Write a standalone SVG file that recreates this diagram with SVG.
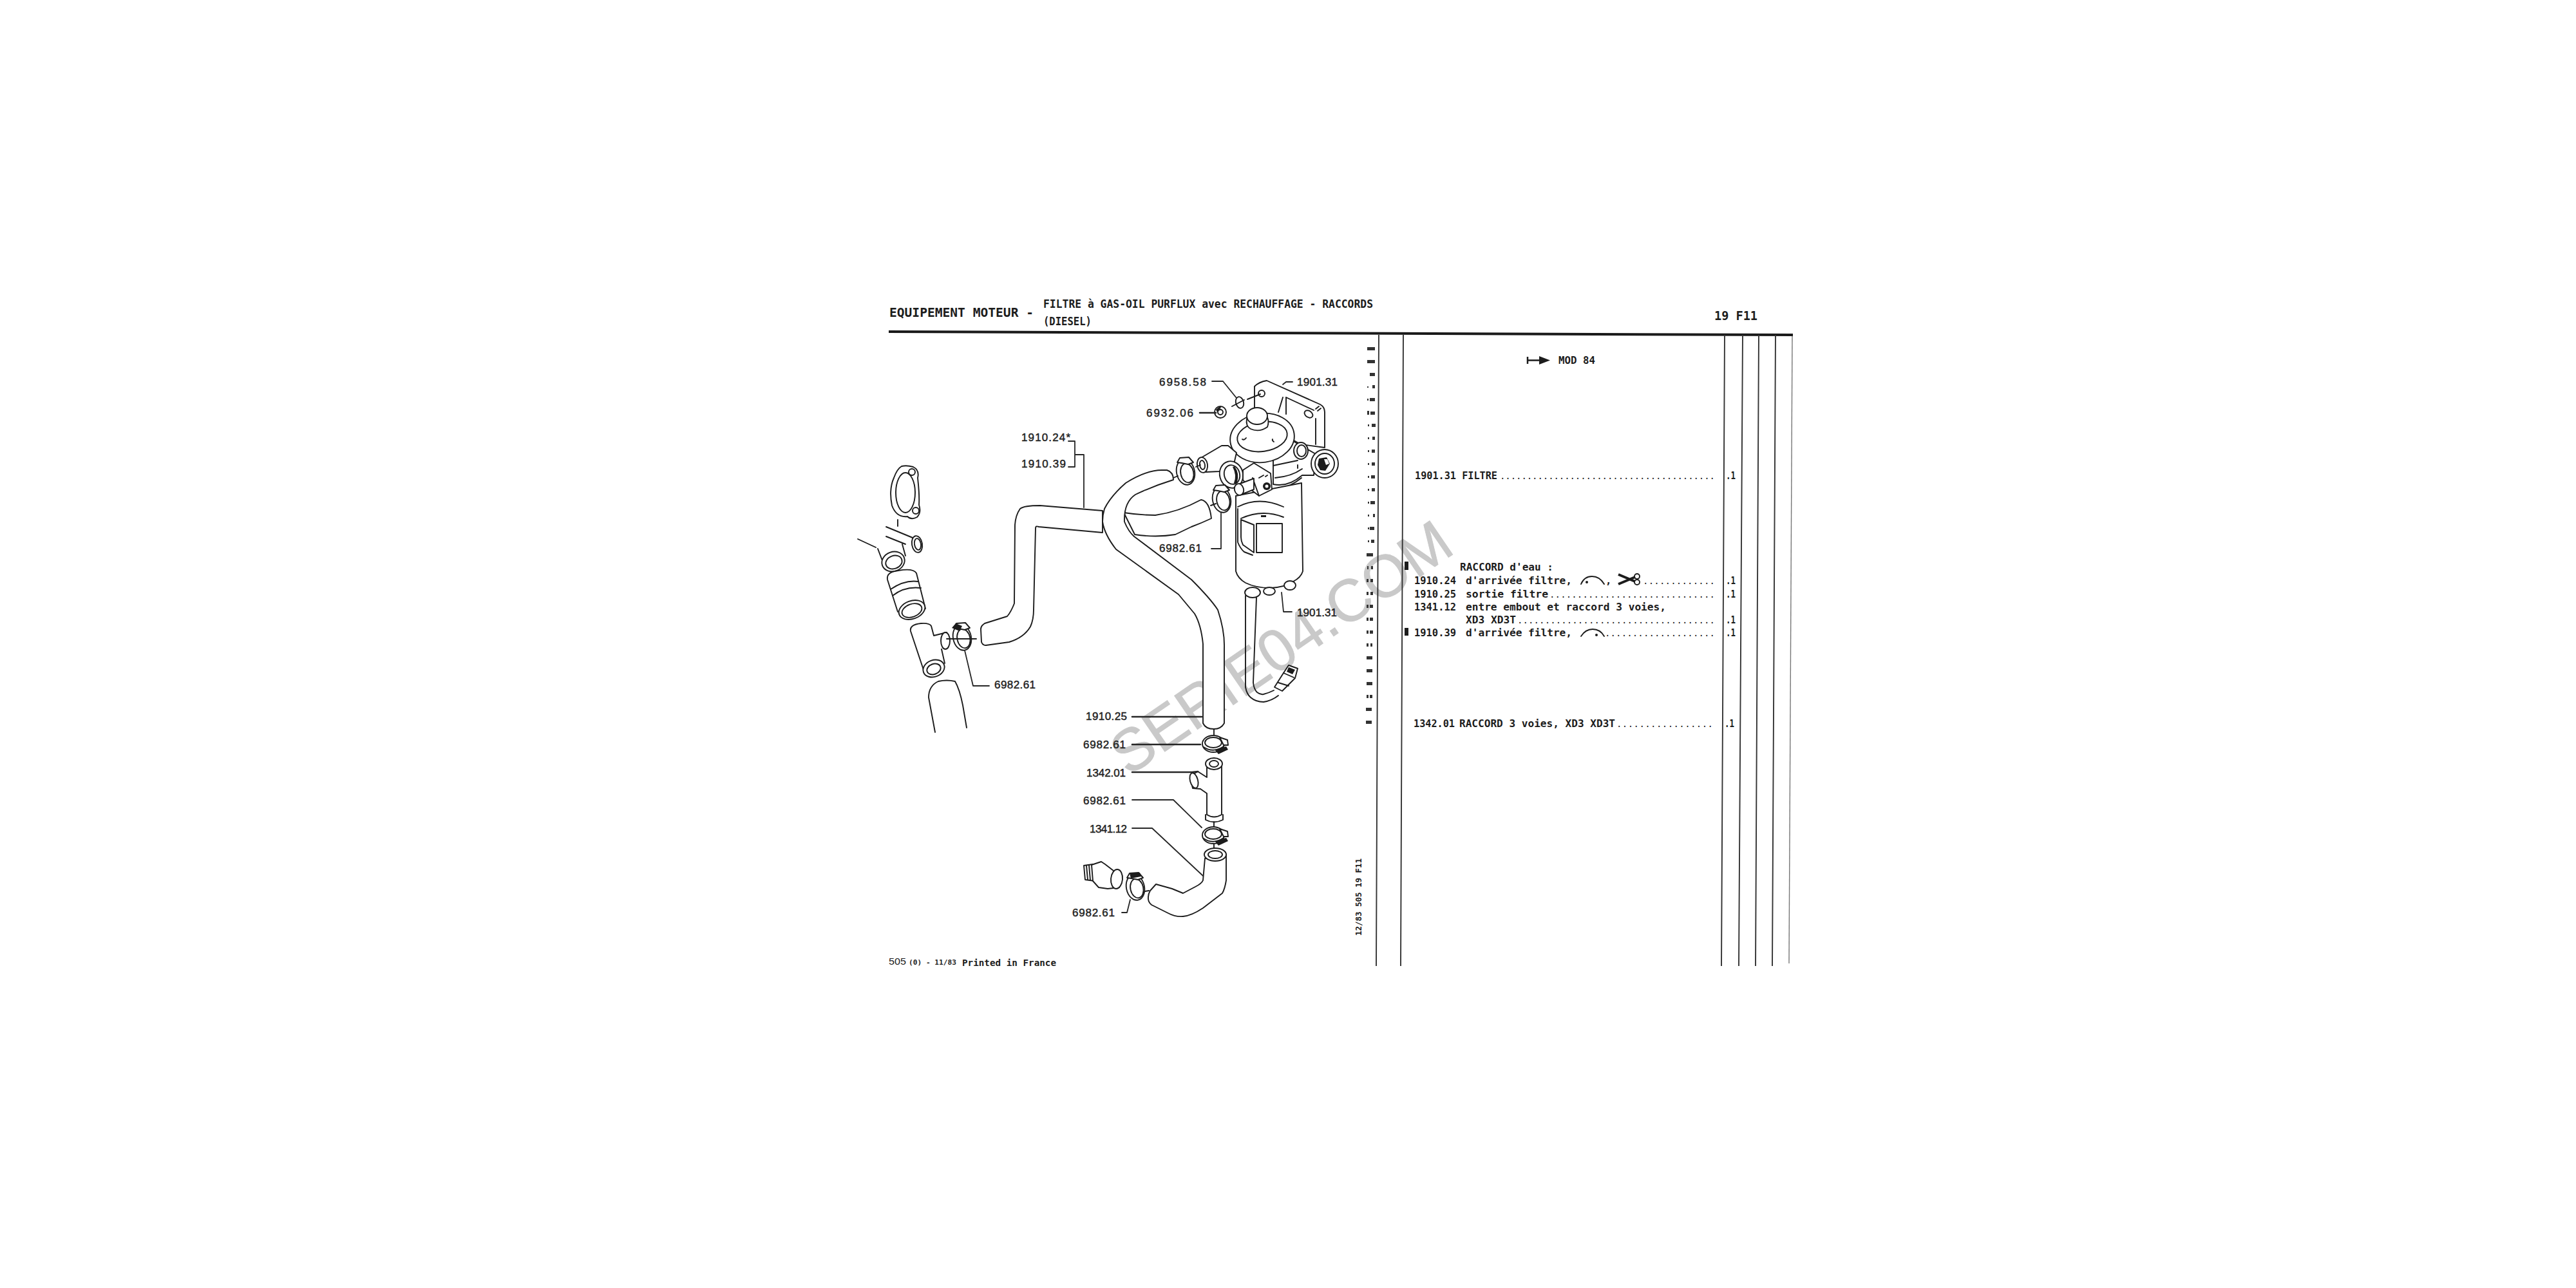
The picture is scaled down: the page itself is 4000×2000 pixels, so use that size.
<svg xmlns="http://www.w3.org/2000/svg" width="4000" height="2000" viewBox="0 0 4000 2000">
<style>
text{font-family:"DejaVu Sans Mono","Liberation Mono",monospace;font-weight:700;fill:#1c1c1c}
.t{font-size:15.500px}
.dt{font-size:14px;font-weight:400}
.a{font-size:17px}
.h{font-size:20px}
.l{font-family:"Liberation Sans",Arial,sans-serif;font-size:17px;font-weight:400;fill:#222;stroke:#222;stroke-width:.45px}
.wm{font-family:"Liberation Sans",Arial,sans-serif;font-size:92px;font-weight:400;fill:#c9c9c9;stroke:#c9c9c9;stroke-width:1px}
.s{fill:none;stroke:#1c1c1c;stroke-width:1.900;stroke-linecap:round;stroke-linejoin:round}
.f{fill:#fff;stroke:#1c1c1c;stroke-width:1.900;stroke-linecap:round;stroke-linejoin:round}
.d{fill:#1c1c1c;stroke:none}
.ld{fill:none;stroke:#262626;stroke-width:1.800;stroke-linecap:round;stroke-linejoin:round}
.th{stroke-width:2.600}
.v{stroke:#333;stroke-width:1.900;fill:none}
</style>
<defs>
<g id="clampV">
<ellipse class="f" cx="0" cy="0" rx="17" ry="13"/>
<ellipse class="s" cx="0" cy="-2" rx="13" ry="8"/>
<path class="s" d="M-15 5Q0 15 16 4"/>
<path class="d" d="M2 9L20 4L23 9L8 16Z"/>
<path class="f" d="M10 -10L22 -6L23 2L16 2Z"/>
</g>
<g id="clampH">
<ellipse class="f" cx="0" cy="0" rx="14" ry="20" transform="rotate(-12)"/>
<ellipse class="s" cx="2" cy="2" rx="10" ry="15" transform="rotate(-12)"/>
<path class="f" d="M-13 -15L-9 -22L5 -23L12 -15L4 -12L-6 -14Z"/>
</g>
</defs>
<rect width="4000" height="2000" fill="#fff"/>
<g id="watermark"><text class="wm" x="1752" y="1206" textLength="618" lengthAdjust="spacingAndGlyphs" transform="rotate(-34.4 1752 1206)">SERIE04.COM</text></g>

<g id="header">
<text class="h" x="1381" y="492" textLength="224" lengthAdjust="spacingAndGlyphs">EQUIPEMENT MOTEUR -</text>
<text class="a" x="1620" y="478" textLength="512" lengthAdjust="spacingAndGlyphs">FILTRE à GAS-OIL PURFLUX avec RECHAUFFAGE - RACCORDS</text>
<text class="a" x="1620" y="505" textLength="75" lengthAdjust="spacingAndGlyphs">(DIESEL)</text>
<text class="h" x="2662" y="497" textLength="67" lengthAdjust="spacingAndGlyphs">19 F11</text>
<path d="M1380 515L2784 520" stroke="#1a1a1a" stroke-width="4" fill="none"/>
</g>

<g id="columns">
<path class="v" d="M2141 520L2137 1500M2179 520L2175 1500M2678 520L2673 1500M2706 520L2700 1500M2731 520L2726 1500M2757 520L2752 1500"/>
<path d="M2783 522L2778 1496" stroke="#777" stroke-width="1.400" fill="none"/>
</g>

<g id="row-numbers">
<path fill="#333" d="M2123 539h12v5h-12zM2123 559h12v5h-12zM2127 579h8v5h-8zM2123 600h2v2h-2zM2131 598h4v5h-4zM2123 619h2v3h-2zM2127 618h8v5h-8zM2123 638h3v6h-3zM2128 639h7v5h-7zM2124 659h2v3h-2zM2130 658h6v5h-6zM2124 679h2v3h-2zM2131 678h4v5h-4zM2124 699h2v3h-2zM2130 698h5v5h-5zM2124 719h2v3h-2zM2130 718h5v5h-5zM2124 739h2v3h-2zM2129 738h6v5h-6zM2124 759h2v3h-2zM2130 758h5v5h-5zM2124 779h2v3h-2zM2128 778h7v5h-7zM2124 799h2v3h-2zM2132 798h3v5h-3zM2124 819h2v3h-2zM2127 818h7v5h-7zM2124 839h2v3h-2zM2129 838h5v5h-5zM2122 859h10v5h-10zM2123 879h2v5h-2zM2129 879h3v5h-3zM2122 899h3v5h-3zM2128 899h4v5h-4zM2122 919h3v5h-3zM2128 919h4v5h-4zM2122 939h3v5h-3zM2127 939h5v5h-5zM2122 959h3v5h-3zM2127 959h5v5h-5zM2122 979h3v5h-3zM2127 979h5v5h-5zM2122 999h3v5h-3zM2128 999h3v5h-3zM2122 1019h9v5h-9zM2122 1039h9v5h-9zM2122 1059h9v5h-9zM2122 1079h3v5h-3zM2127 1079h4v5h-4zM2121 1099h9v5h-9zM2121 1119h9v5h-9z"/>
</g>

<g id="parts-list">
<path d="M2372 554v11M2372 559.500h20" stroke="#1c1c1c" stroke-width="2.500" fill="none"/>
<path class="d" d="M2390 553L2407 559.500L2390 566Z"/>
<text class="t" x="2420" y="565" textLength="57" lengthAdjust="spacingAndGlyphs">MOD 84</text>
<text class="t" x="2197" y="744" textLength="128" lengthAdjust="spacingAndGlyphs">1901.31 FILTRE</text>
<text class="dt" x="2329" y="744" textLength="334" lengthAdjust="spacing">........................................</text>
<text class="t" x="2680" y="744" textLength="15" lengthAdjust="spacingAndGlyphs">.1</text>
<rect class="d" x="2181" y="872" width="6" height="13"/>
<text class="t" x="2267" y="886" textLength="145" lengthAdjust="spacingAndGlyphs">RACCORD d'eau :</text>
<text class="t" x="2196" y="907" textLength="65" lengthAdjust="spacingAndGlyphs">1910.24</text>
<text class="t" x="2276" y="907" textLength="165" lengthAdjust="spacingAndGlyphs">d'arrivée filtre,</text>
<path class="s" d="M2455 907Q2460 895 2472 895Q2484 895 2491 907"/><circle class="d" cx="2464" cy="904" r="2"/>
<text class="t" x="2493" y="907">,</text>
<path d="M2513 892L2539 903M2513 907L2539 896" stroke="#1c1c1c" stroke-width="4" fill="none"/>
<circle class="s" cx="2542" cy="895" r="4"/><circle class="s" cx="2542" cy="904" r="4"/>
<text class="dt" x="2551" y="907" textLength="112" lengthAdjust="spacing">.............</text>
<text class="t" x="2680" y="907" textLength="15" lengthAdjust="spacingAndGlyphs">.1</text>
<text class="t" x="2196" y="928" textLength="65" lengthAdjust="spacingAndGlyphs">1910.25</text>
<text class="t" x="2276" y="928" textLength="128" lengthAdjust="spacingAndGlyphs">sortie filtre</text>
<text class="dt" x="2406" y="928" textLength="257" lengthAdjust="spacing">..............................</text>
<text class="t" x="2680" y="928" textLength="15" lengthAdjust="spacingAndGlyphs">.1</text>
<text class="t" x="2196" y="948" textLength="65" lengthAdjust="spacingAndGlyphs">1341.12</text>
<text class="t" x="2276" y="948" textLength="311" lengthAdjust="spacingAndGlyphs">entre embout et raccord 3 voies,</text>
<text class="t" x="2276" y="968" textLength="78" lengthAdjust="spacingAndGlyphs">XD3 XD3T</text>
<text class="dt" x="2356" y="968" textLength="307" lengthAdjust="spacing">....................................</text>
<text class="t" x="2680" y="968" textLength="15" lengthAdjust="spacingAndGlyphs">.1</text>
<rect class="d" x="2181" y="975" width="6" height="12"/>
<text class="t" x="2196" y="988" textLength="65" lengthAdjust="spacingAndGlyphs">1910.39</text>
<text class="t" x="2276" y="988" textLength="165" lengthAdjust="spacingAndGlyphs">d'arrivée filtre,</text>
<path class="s" d="M2455 988Q2462 977 2473 977Q2485 977 2491 988"/><circle class="d" cx="2479" cy="986" r="2"/>
<text class="dt" x="2492" y="988" textLength="171" lengthAdjust="spacing">....................</text>
<text class="t" x="2680" y="988" textLength="15" lengthAdjust="spacingAndGlyphs">.1</text>
<text class="t" x="2195" y="1129" textLength="64" lengthAdjust="spacingAndGlyphs">1342.01</text>
<text class="t" x="2266" y="1129" textLength="242" lengthAdjust="spacingAndGlyphs">RACCORD 3 voies, XD3 XD3T</text>
<text class="dt" x="2510" y="1129" textLength="150" lengthAdjust="spacing">.................</text>
<text class="t" x="2678" y="1129" textLength="15" lengthAdjust="spacingAndGlyphs">.1</text>
</g>

<g id="footer">
<text x="1380" y="1498" style="font-size:15px;font-weight:400;font-family:'Liberation Sans',sans-serif" textLength="27" lengthAdjust="spacingAndGlyphs">505</text>
<text x="1411" y="1498" style="font-size:11px" textLength="74" lengthAdjust="spacingAndGlyphs">(0) - 11/83</text>
<text x="1494" y="1500" style="font-size:14px" textLength="146" lengthAdjust="spacingAndGlyphs">Printed in France</text>
<text x="2114" y="1453" style="font-size:13px" textLength="120" lengthAdjust="spacingAndGlyphs" transform="rotate(-90 2114 1453)">12/83 505 19 F11</text>
</g>

<g id="left-parts">
<g id="gasket">
<path class="s" d="M1400 724Q1408 722 1418 725Q1428 730 1425 742Q1428 770 1427 784Q1431 796 1424 803Q1415 808 1409 802Q1392 804 1385 785Q1380 760 1388 742Q1393 728 1400 724Z"/>
<ellipse class="s" cx="1406" cy="765" rx="15" ry="31"/>
<circle class="s" cx="1416" cy="733" r="5"/><circle class="s" cx="1422" cy="793" r="5"/>
<path class="s" d="M1394 807V817"/>
</g>
<g id="upper-tee">
<path class="s" d="M1376 818L1422 837M1376 833L1406 845M1332 837L1360 850M1363 852L1371 873M1401 845L1406 863"/>
<ellipse class="f" cx="1424" cy="845" rx="8" ry="13" transform="rotate(-10 1424 845)"/>
<ellipse class="s" cx="1425" cy="845" rx="5" ry="9" transform="rotate(-10 1425 845)"/>
<ellipse class="f" cx="1387" cy="872" rx="18" ry="15" transform="rotate(-20 1387 872)"/>
<ellipse class="s" cx="1388" cy="873" rx="13" ry="10" transform="rotate(-20 1388 873)"/>
</g>
<g id="sleeve">
<path class="s" d="M1394 950L1378 900Q1376 888 1395 886Q1418 882 1423 890L1437 945"/>
<path class="s" d="M1383 915Q1405 900 1426 903M1386 925Q1405 910 1430 913"/>
<ellipse class="f" cx="1416" cy="947" rx="21" ry="14" transform="rotate(-20 1416 947)"/>
<ellipse class="s" cx="1416" cy="948" rx="16" ry="10" transform="rotate(-20 1416 948)"/>
</g>
<g id="small-tee">
<path class="s" d="M1434 1040L1414 980Q1412 970 1430 968Q1443 967 1446 972L1450 987L1470 982M1462 1008L1467 1030"/>
<ellipse class="f" cx="1468" cy="995" rx="7" ry="13"/>
<ellipse class="f" cx="1450" cy="1038" rx="17" ry="13" transform="rotate(-20 1450 1038)"/>
<ellipse class="s" cx="1450" cy="1039" rx="11" ry="8" transform="rotate(-20 1450 1039)"/>
</g>
<g id="clamp-left">
<use href="#clampH" x="1494" y="990"/>
<path class="s" d="M1470 992H1516"/>
<path class="d" d="M1478 975L1484 968L1494 972L1490 980Z"/>
</g>
<path id="lower-hose" class="s" d="M1452 1137L1442 1083Q1442 1065 1457 1058Q1470 1055 1483 1058Q1490 1070 1495 1095L1501 1130"/>
</g>

<g id="hose-1910-24">
<path class="f" d="M1712 793L1615 785Q1590 785 1584 790Q1577 800 1576 815L1575 937Q1570 950 1564 957L1529 968Q1523 972 1523 977L1524 997Q1526 1002 1531 1002L1567 997Q1590 990 1600 973Q1605 962 1605 947L1608 820Q1608 816 1613 818L1712 827Z"/>
<path class="f" d="M1745 796Q1770 800 1794 800Q1830 795 1865 776Q1878 778 1881 805Q1866 812 1850 818L1825 830Q1795 835 1762 830Z"/>
</g>
<g id="hose-1910-25">
<path class="f" d="M1812 730Q1822 733 1822 745Q1790 755 1763 768Q1745 780 1746 810Q1752 825 1761 833L1850 900Q1880 930 1891 947Q1902 980 1901 1007L1901 1123Q1896 1132 1885 1132Q1872 1132 1868 1123L1868 1000Q1865 970 1855 953L1830 923L1733 853Q1715 830 1712 810Q1712 800 1715 790Q1725 770 1748 750Q1780 730 1804 730Z"/>
</g>

<g id="filter">
<g id="bracket">
<path class="f" d="M1948 637V600Q1955 593 1967 591L2050 628Q2057 632 2057 640V695L2020 690L1948 650Z"/>
<path class="s" d="M1992 617L1985 640M1997 617V643M1997 617L2040 637M2043 650V690"/>
<circle class="s" cx="1959" cy="611" r="5"/>
<ellipse class="s" cx="2032" cy="643" rx="7" ry="5" transform="rotate(35 2032 643)"/>
<path class="s" d="M2043 635L2048 631M2046 638L2051 634"/>
</g>
<g id="body">
<path class="f" d="M1977 700L2008 685L2043 705L2040 738L2022 738Q2000 757 1977 752Z"/>
<path class="s" d="M1977 723L2015 715M1985 760Q2005 755 2021 742M1980 742Q2005 740 2022 728M2015 722V727"/>
<ellipse class="f" cx="2020" cy="700" rx="11" ry="13"/>
<ellipse class="s" cx="2021" cy="700" rx="7" ry="9"/>
<ellipse class="f" cx="2057" cy="720" rx="21" ry="22"/>
<ellipse class="s" cx="2057" cy="720" rx="15" ry="16"/>
<path class="d" d="M2048 712L2060 710L2065 720L2058 731L2050 730L2046 722Z"/>
<path fill="#fff" d="M2056 713L2061 713L2064 720L2059 722Z"/>
</g>
<g id="bowl">
<path class="f" d="M1919 775L1919 887Q1922 898 1934 905Q1950 913 1973 913Q1995 912 2008 903Q2020 897 2023 887L2021 750L1919 770Z"/>
<path class="s" d="M1922 787Q1955 770 1993 787M1922 790L1922 842Q1926 852 1932 857L1945 862"/>
<path class="s" d="M1927 807L1947 815V858L1930 846Q1927 840 1927 834ZM1951 813H1991V858H1951ZM1927 805Q1960 790 1993 803"/>
<rect class="d" x="1958" y="800" width="8" height="3"/>
</g>
<g id="head">
<ellipse class="f" cx="1960" cy="680" rx="50" ry="38" transform="rotate(-8 1960 680)"/>
<ellipse class="s" cx="1960" cy="678" rx="39" ry="23" transform="rotate(-8 1960 678)"/>
<path class="s" d="M1935 680Q1932 684 1929 682M1976 682Q1975 684 1978 686"/>
<path class="f" d="M1936 650Q1934 662 1942 666Q1955 672 1968 663Q1971 655 1968 648L1952 640Z"/>
<ellipse class="f" cx="1952" cy="646" rx="16" ry="13"/>
<path class="f" d="M1863 712L1897 692L1907 692L1920 703L1915 725L1893 732L1872 733Z"/>
<ellipse class="f" cx="1867" cy="722" rx="8" ry="12" transform="rotate(-10 1867 722)"/>
<ellipse class="s" cx="1867" cy="722" rx="4" ry="7" transform="rotate(-10 1867 722)"/>
<ellipse class="f" cx="1912" cy="737" rx="18" ry="21" transform="rotate(-15 1912 737)"/>
<ellipse class="s" cx="1913" cy="737" rx="12" ry="15" transform="rotate(-15 1913 737)"/>
<path class="d" d="M1917 724Q1925 735 1921 749Q1918 752 1916 750Q1921 738 1914 725Z"/>
<path class="f" d="M1930 730L1947 719L1973 735L1975 760L1955 770L1942 760L1930 745Z"/>
<path class="s" d="M1955 742L1962 738M1965 740L1968 738M1945 742L1955 770"/>
<circle class="d" cx="1967" cy="755" r="6"/><circle cx="1967" cy="755" r="2.500" fill="#fff"/>
<path class="f" d="M1923 752L1947 743V760L1927 768Z"/>
<ellipse class="f" cx="1924" cy="760" rx="7" ry="9" transform="rotate(-15 1924 760)"/>
</g>
<g id="drain">
<path class="s" d="M1934 925V1067Q1936 1078 1942 1083Q1950 1090 1962 1090Q1975 1088 1985 1080"/>
<path class="s" d="M1951 928L1946 1060Q1947 1070 1952 1075Q1957 1079 1962 1078Q1970 1076 1978 1072"/>
<ellipse class="f" cx="1945" cy="920" rx="12" ry="8"/>
<ellipse class="f" cx="1971" cy="918" rx="9" ry="6"/>
<ellipse class="f" cx="2003" cy="909" rx="9" ry="7"/>
<path class="f" d="M2001 1033L2015 1038L2011 1053L1991 1073L1979 1067L1993 1045Z"/>
<path class="s" d="M1993 1045L2009 1052M1985 1060L2001 1065"/>
<path class="d" d="M2001 1036L2011 1040L2007 1047L1998 1043Z"/>
</g>
<g id="washer">
<ellipse class="s" cx="1925" cy="625" rx="6" ry="9" transform="rotate(-15 1925 625)"/>
<path class="s" d="M1913 631L1932 621M1937 620L1957 612"/>
</g>
<g id="nut">
<circle class="f" cx="1895" cy="640" r="9"/><circle class="s" cx="1895" cy="640" r="4"/>
<path class="d" d="M1888 636L1894 631L1896 633L1890 640Z"/>
</g>
</g>

<g id="top-clamps">
<use href="#clampH" x="1841" y="733"/>
<path class="s" d="M1857 725L1864 722M1822 742L1829 739"/>
<use href="#clampH" x="1897" y="776"/>
<path class="s" d="M1880 785L1888 782"/>
</g>

<g id="lower-parts">
<path class="s" d="M1885 1132V1142"/>
<use href="#clampV" x="1884" y="1155"/>
<g id="tee-1342-01">
<path class="f" d="M1874 1190V1207L1860 1198L1848 1205L1852 1224L1864 1225L1874 1232V1265Q1885 1272 1897 1265V1190Z"/>
<ellipse class="f" cx="1854" cy="1212" rx="6" ry="12" transform="rotate(-15 1854 1212)"/>
<ellipse class="f" cx="1885" cy="1186" rx="13" ry="9"/>
<ellipse class="s" cx="1885" cy="1186" rx="7" ry="5"/>
<path class="s" d="M1872 1265V1273Q1885 1280 1899 1273V1265"/>
</g>
<path class="s" d="M1885 1276V1286"/>
<use href="#clampV" x="1884" y="1297"/>
<path class="s" d="M1885 1310V1318"/>
<g id="hose-1341-12">
<path class="f" d="M1904 1327V1367Q1902 1380 1898 1387L1868 1410Q1850 1422 1837 1423Q1825 1424 1814 1418L1788 1405Q1782 1400 1783 1393Q1783 1388 1786 1383L1795 1373L1820 1380L1837 1387L1856 1377Q1866 1372 1868 1367L1871 1333Z"/>
<ellipse class="f" cx="1887" cy="1327" rx="17" ry="10"/>
<ellipse class="s" cx="1887" cy="1327" rx="11" ry="6"/>
</g>
<g id="clamp-bottom">
<use href="#clampH" x="1763" y="1378"/>
<path class="d" d="M1754 1356L1770 1355L1772 1361L1756 1364Z"/>
<path class="s" d="M1778 1384L1784 1383"/>
</g>
<g id="union">
<path class="f" d="M1683 1344L1697 1342L1700 1368L1685 1366Z"/>
<path class="s" d="M1687 1344L1689 1366M1691 1343L1693 1367"/>
<path class="f" d="M1695 1343L1710 1338L1716 1342L1729 1352L1738 1378L1720 1380L1706 1378L1697 1368Z"/>
<ellipse class="f" cx="1734" cy="1365" rx="9" ry="15" transform="rotate(5 1734 1365)"/>
</g>
</g>

<g id="connectors">
<path class="ld" d="M1882 592H1899L1920 618"/>
<path class="ld" d="M1992 597L1997 593H2007"/>
<path class="ld th" d="M1863 641H1888"/>
<path class="ld" d="M1659 685H1669V725H1659M1669 706H1683V788"/>
<path class="ld" d="M1896 797V852H1881"/>
<path class="ld" d="M1990 920L1993 950H2006"/>
<path class="ld" d="M1498 1010L1511 1065H1536"/>
<path class="ld th" d="M1758 1113H1866"/>
<path class="ld th" d="M1758 1156H1864"/>
<path class="ld th" d="M1758 1199H1851L1860 1198"/>
<path class="ld" d="M1758 1242H1822L1866 1285"/>
<path class="ld" d="M1758 1286H1789L1868 1360"/>
<path class="ld" d="M1742 1417H1750L1755 1397"/>
</g>

<g id="labels">
<text class="l" x="1800" y="599" textLength="73" lengthAdjust="spacing">6958.58</text>
<text class="l" x="2014" y="599" textLength="63" lengthAdjust="spacing">1901.31</text>
<text class="l" x="1780" y="647" textLength="73" lengthAdjust="spacing">6932.06</text>
<text class="l" x="1586" y="685" textLength="76" lengthAdjust="spacing">1910.24*</text>
<text class="l" x="1586" y="726" textLength="69" lengthAdjust="spacing">1910.39</text>
<text class="l" x="1800" y="857" textLength="66" lengthAdjust="spacing">6982.61</text>
<text class="l" x="2014" y="957" textLength="62" lengthAdjust="spacing">1901.31</text>
<text class="l" x="1544" y="1069" textLength="64" lengthAdjust="spacing">6982.61</text>
<text class="l" x="1686" y="1118" textLength="64" lengthAdjust="spacing">1910.25</text>
<text class="l" x="1682" y="1162" textLength="66" lengthAdjust="spacing">6982.61</text>
<text class="l" x="1687" y="1206" textLength="61" lengthAdjust="spacing">1342.01</text>
<text class="l" x="1682" y="1249" textLength="66" lengthAdjust="spacing">6982.61</text>
<text class="l" x="1692" y="1293" textLength="58" lengthAdjust="spacing">1341.12</text>
<text class="l" x="1665" y="1423" textLength="66" lengthAdjust="spacing">6982.61</text>
</g>
</svg>
